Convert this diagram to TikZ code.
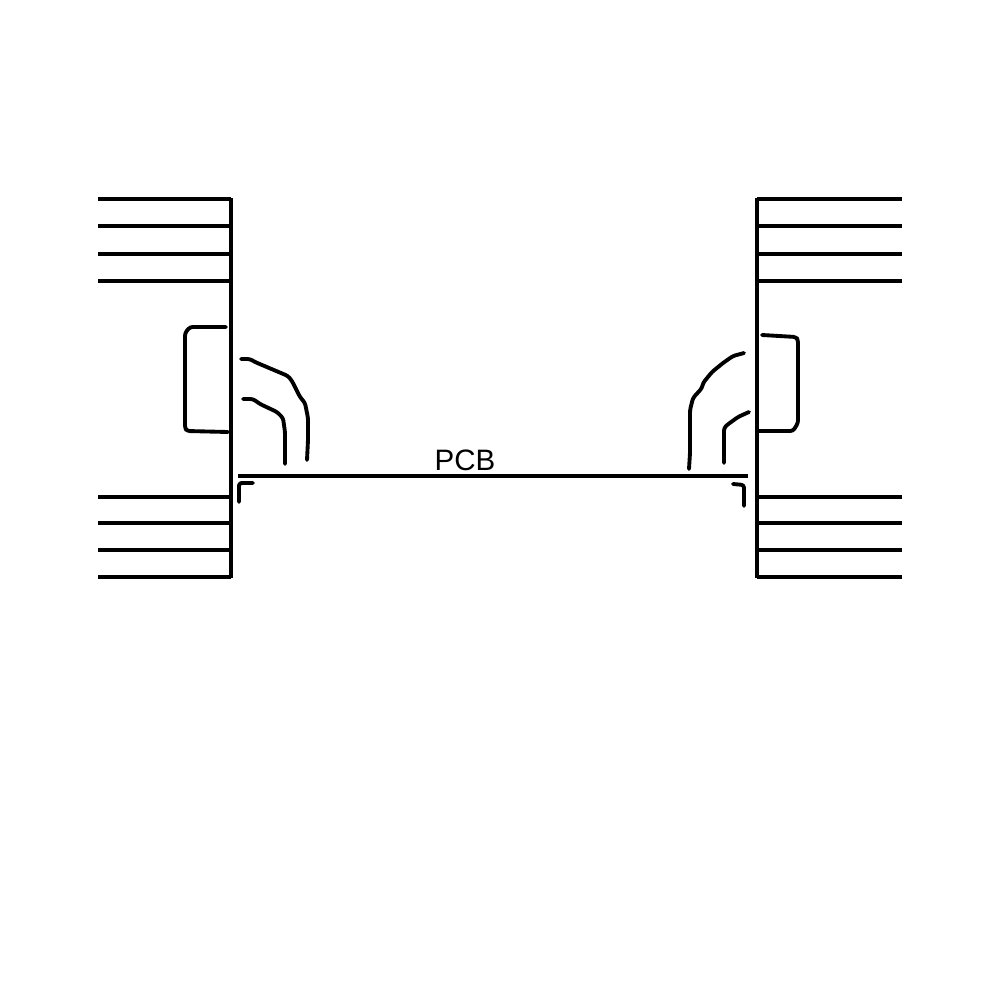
\documentclass[tikz,border=0pt]{standalone}
\usepackage{fontspec}
\setmainfont{Liberation Sans}
\tikzset{
  wire/.style={line width=2.2pt,line join=round,line cap=round,rounded corners=1.5pt},
  fin/.style={line width=2pt}
}

\begin{document}
\begin{tikzpicture}[x=0.02cm,y=-0.02cm]
      \useasboundingbox[fill=white] (0,0) rectangle (1000,1000);

      \coordinate (pcbleft) at (238,476);
      \coordinate (pcbright) at (748,476);
      \node[font=\fontsize{16.8pt}{20pt}\selectfont,inner sep=0pt] (pcb) at (465,460) {PCB};

      % walls
      \draw[fin] (231,198) -- (231,578);
      \draw[fin] (757,198) -- (757,578);

      % fins
      \foreach \y in {199,226,254,281,497,523,550,577} {
        \draw[fin] (98,\y) -- (231,\y);
        \draw[fin] (757,\y) -- (902,\y);
      }

      \draw[fin] (pcbleft) -- (pcbright);

      % left side
      \draw[wire] (226,327) -- (190,327) -- (185,333) -- (185,428) -- (187,431) -- (228,432);
      \draw[wire] (241,359) -- (250,359) -- (255,362) -- (288,376) -- (292,381) -- (300,397) -- (305,403) -- (308,418) -- (308,440) -- (307,460);
      \draw[wire] (243,399) -- (253,399) -- (260,404) -- (277,412) -- (283,418) -- (285,432) -- (285,464);
      \draw[wire] (239,502) -- (239,483) -- (253,483);

      % right side
      \draw[wire] (762,335) -- (796,337) -- (798,340) -- (798,423) -- (793,431) -- (758,431);
      \draw[wire] (744,353) -- (733,356) -- (723,363) -- (712,372) -- (703,383) -- (702,388) -- (693,398) -- (690,410) -- (690,453) -- (689,469);
      \draw[wire] (749,412) -- (738,417) -- (727,425) -- (724,428) -- (724,463);
      \draw[wire] (733,484) -- (744,485) -- (744,506);
    \end{tikzpicture}
\end{document}
